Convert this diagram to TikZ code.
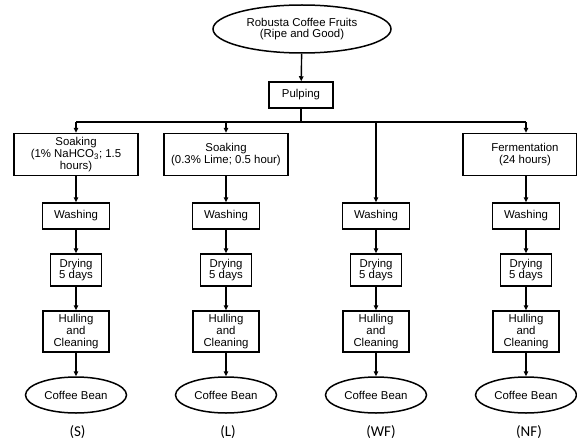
\documentclass[tikz,border=0pt]{standalone}
\usepackage{fontspec}
\setmainfont{Liberation Sans}
\newfontfamily\labfont{Carlito}
\usetikzlibrary{shapes.geometric,arrows.meta}
\tikzset{
  base/.style={draw, line width=1.5pt, inner sep=0pt, align=center,
    font=\fontsize{11.4}{11.8}\selectfont},
  boxnode/.style={base, rectangle},
  ovalnode/.style={base, ellipse},
  arr/.style={line width=1.4pt, -{Triangle[length=5pt,width=4.5pt]}},
  ln/.style={line width=1.4pt},
  tag/.style={font=\labfont\fontsize{15}{16}\selectfont, inner sep=0pt}
}
\begin{document}
\begin{tikzpicture}[x=1pt,y=-1pt]
\useasboundingbox (0,0) rectangle (577,441);
\node[ovalnode, minimum width=178pt, minimum height=48pt] (fruit) at (302,29) {Robusta Coffee Fruits\\(Ripe and Good)};
\node[boxnode, minimum width=64pt, minimum height=26pt] (pulp) at (301,95) {Pulping};
\coordinate (bar) at (301,122);
\coordinate (barS) at (76,122);
\coordinate (barL) at (226,122);
\coordinate (barW) at (376,122);
\coordinate (barN) at (526,122);

\node[boxnode, minimum width=124pt, minimum height=42pt] (treatS) at (76,154.5) {Soaking\\(1\% NaHCO\textsubscript{3}; 1.5\\hours)};
\node[boxnode, minimum width=124pt, minimum height=42pt] (treatL) at (226,154.5) {Soaking\\(0.3\% Lime; 0.5 hour)};
\node[boxnode, minimum width=113.5pt, minimum height=42pt] (treatN) at (519.75,154.5) {\hspace*{10.5pt}Fermentation\\\hspace*{10.5pt}(24 hours)};

\foreach \c/\x/\lab/\lx in {S/76/(S)/77.5, L/226/(L)/228, W/376/(WF)/381, N/526/(NF)/529}{
  \node[boxnode, minimum width=67pt, minimum height=26pt] (wash\c) at (\x,216) {Washing};
  \node[boxnode, minimum width=51pt, minimum height=32pt] (dry\c) at (\x,270) {Drying\\5 days};
  \node[boxnode, minimum width=66pt, minimum height=41pt] (hull\c) at (\x,331.5) {Hulling\\and\\Cleaning};
  \node[ovalnode, minimum width=101pt, minimum height=36pt] (bean\c) at (\x,395) {Coffee Bean};
  \node[tag, anchor=base] (tag\c) at (\lx,436.5) {\lab};
  \draw[arr] (dry\c) -- (hull\c);
  \draw[arr] (hull\c) -- (bean\c);
}

\draw[arr] (fruit) -- (pulp);
\draw[ln] (pulp) -- (bar);
\draw[ln] (barS) -- (barN);
\draw[arr] (barS) -- (treatS);
\draw[arr] (barL) -- (treatL);
\draw[arr] (barN) -- (treatN.north -| barN);
\draw[arr] (barW) -- (washW);
\draw[arr] (treatS) -- (washS);
\draw[arr] (treatL) -- (washL);
\draw[arr] (treatN.south -| barN) -- (washN);
\draw[arr] (washS) -- (dryS);
\draw[arr] (washL) -- (dryL);
\draw[arr] (washW) -- (dryW);
\draw[arr] (washN) -- (dryN);
\end{tikzpicture}
\end{document}
